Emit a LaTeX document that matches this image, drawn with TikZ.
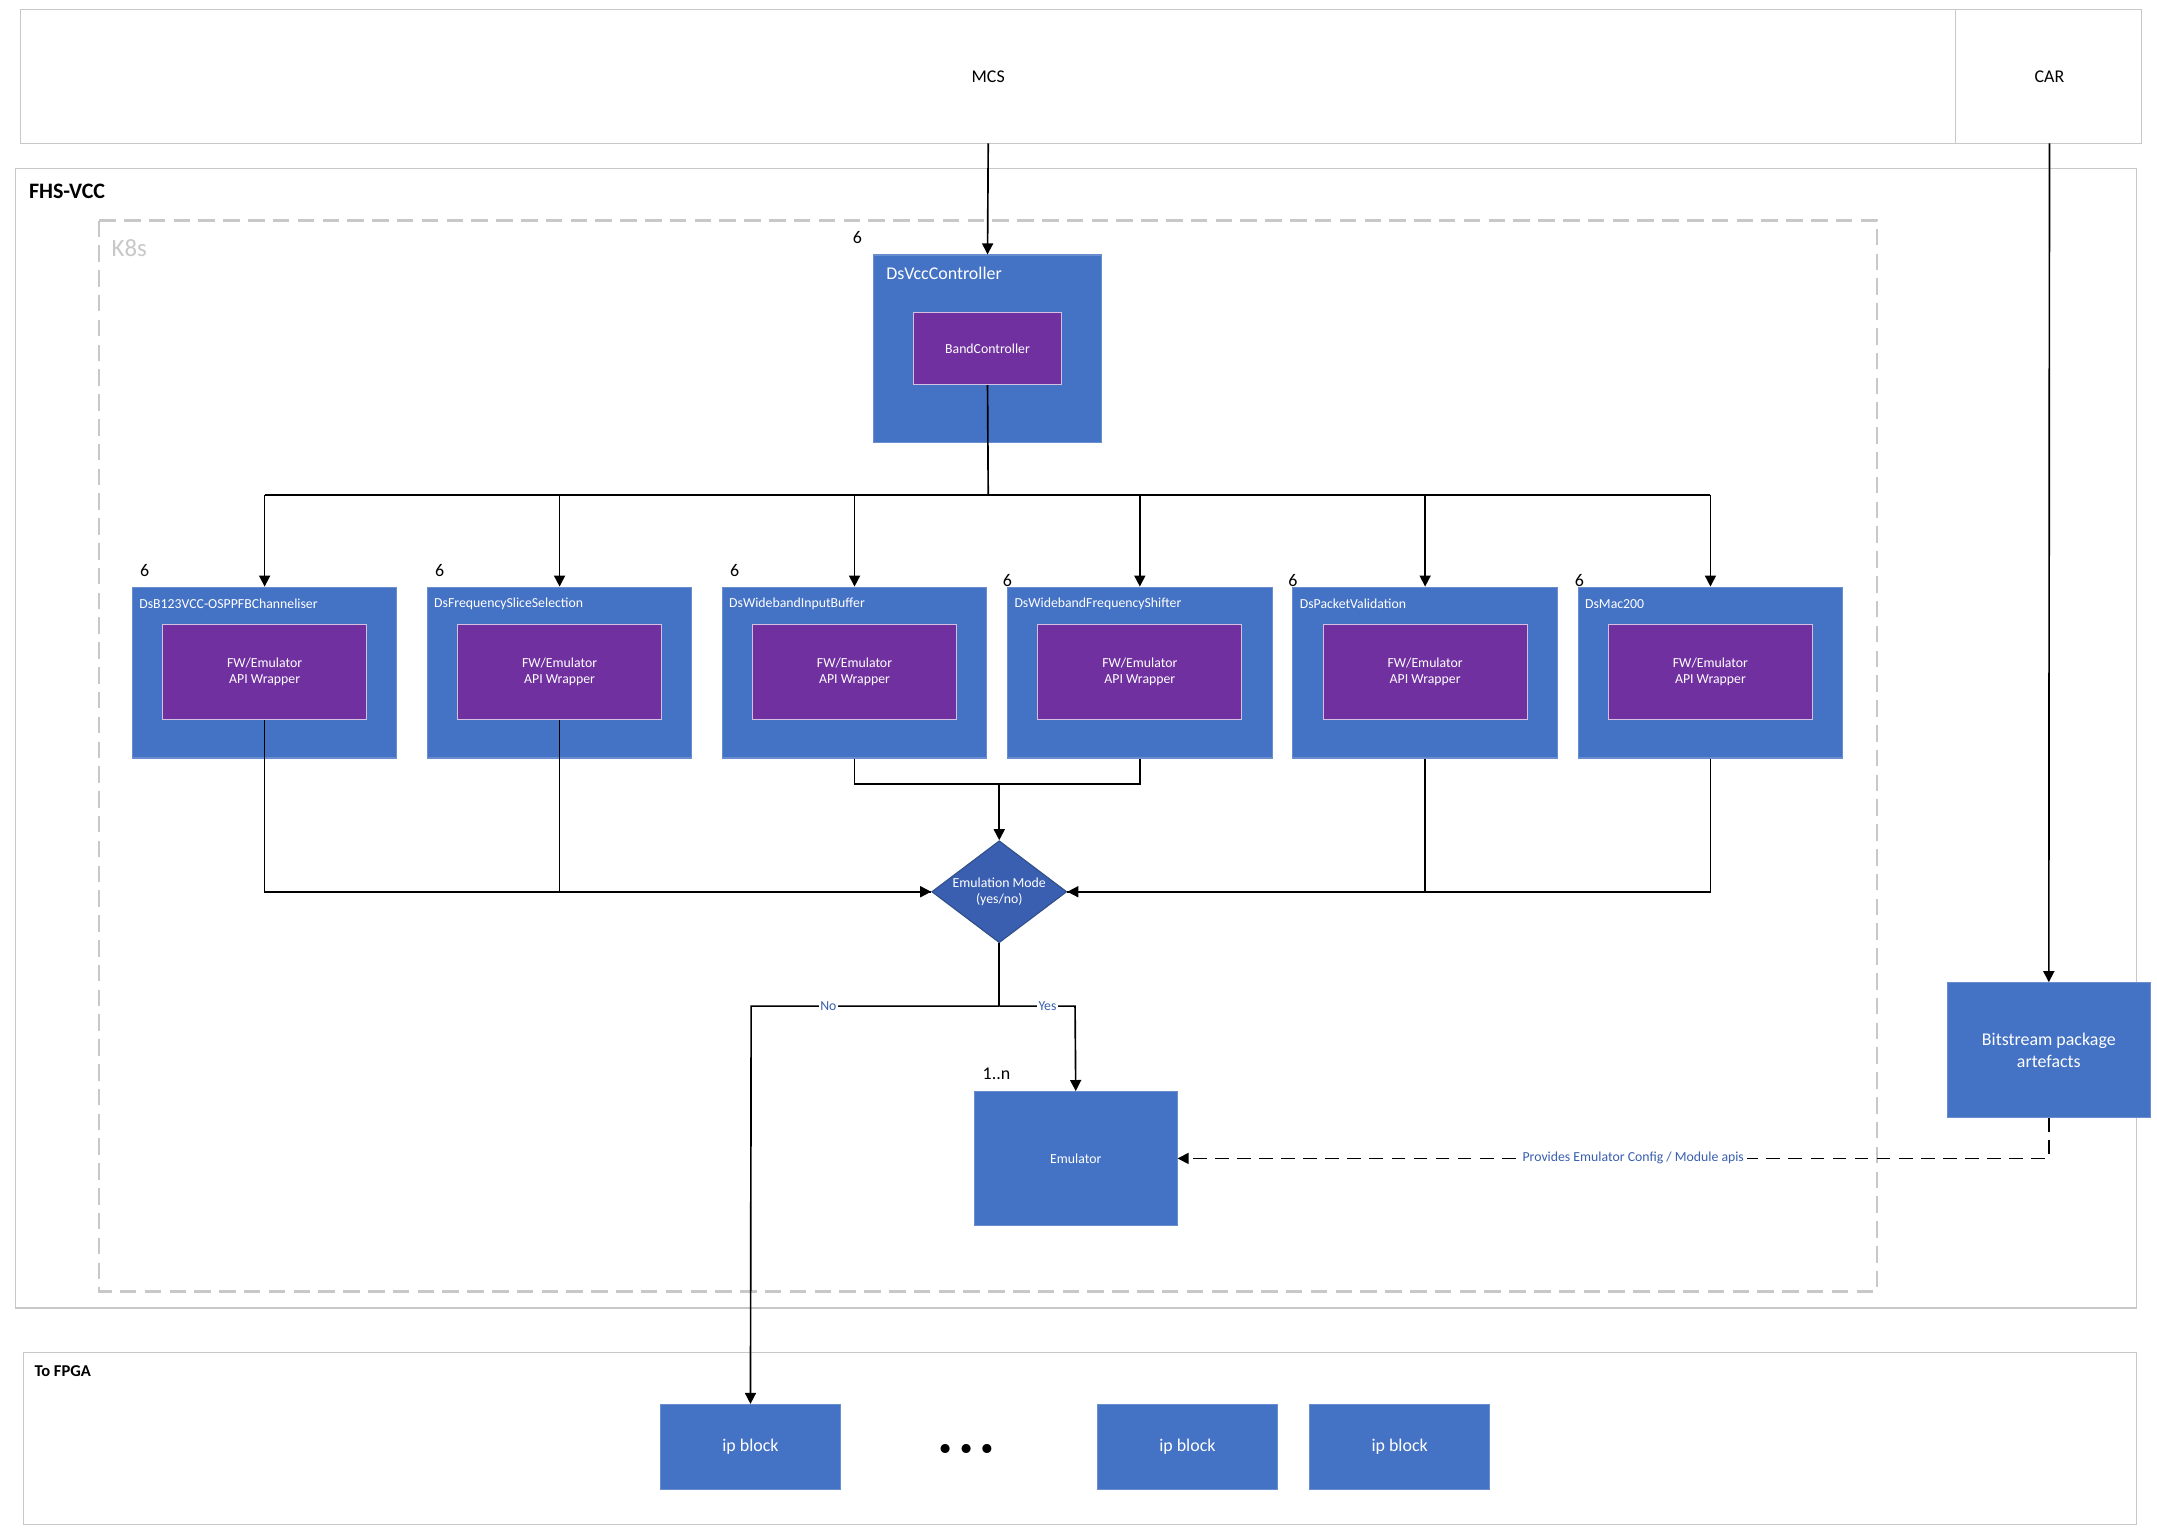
\documentclass[tikz,border=0pt]{standalone}
\usepackage{fontspec}
\setmainfont{Carlito}
\usetikzlibrary{shapes.geometric,arrows.meta}
\definecolor{bl}{HTML}{4472C4}
\definecolor{pu}{HTML}{7030A0}
\definecolor{gr}{HTML}{C8C8C8}
\definecolor{lb}{HTML}{3A5FB0}
\begin{document}
\begin{tikzpicture}[x=0.5pt,y=-0.5pt,
 blk/.style={fill=bl,draw=bl!80!white,inner sep=0},
 inn/.style={fill=pu,draw=white!70!pu,text=white,font=\fontsize{5}{6}\selectfont,align=center,inner sep=0},
 ttl/.style={text=white,font=\fontsize{5}{6}\selectfont,anchor=west},
 num/.style={font=\fontsize{6.5}{7}\selectfont},
 ar/.style={-{Triangle[length=4pt,width=4pt]},semithick},
 ln/.style={semithick}]
\fill[white] (0,0) rectangle (1565,1112);
\useasboundingbox (0,0) rectangle (1565,1112);
% top
\draw[gr] (15,7) rectangle (1419,104);
\draw[gr] (1419,7) rectangle (1554,104);
\node[font=\fontsize{6.5}{7}\selectfont] (mcs) at (717,56) {MCS};
\node[font=\fontsize{6.5}{7}\selectfont] (car) at (1487,56) {CAR};
\coordinate (mcsb) at (717,104);
\coordinate (carb) at (1487,104);
% FHS-VCC
\draw[gr] (11,122) rectangle (1550,949);
\node[anchor=west,font=\bfseries\fontsize{8}{9}\selectfont] (fhs) at (14,139) {FHS-VCC};
\draw[gr,dashed,thick,dash pattern=on 6pt off 3pt] (72,160) rectangle (1362,937);
\node[anchor=west,text=gr,font=\fontsize{9}{10}\selectfont] (k8s) at (74,180) {K8s};
% controller
\node[blk,minimum width=165*0.5pt,minimum height=136*0.5pt] (ctrl) at (716.5,253) {};
\node[ttl,font=\fontsize{6.5}{7}\selectfont] (ctt) at (636,198) {DsVccController};
\node[num] (n0) at (622,172) {6};
\node[inn,minimum width=107*0.5pt,minimum height=52*0.5pt] (band) at (716.5,253) {BandController};
\coordinate (bus) at (717,359);
\draw[ln] (band.south) -- (bus);
\draw[ln] (192,359) -- (1241,359);
% six boxes
\foreach \i/\x/\t/\nx/\ny in {1/192/DsB123VCC-OSPPFBChanneliser/105/414, 2/406/DsFrequencySliceSelection/319/414, 3/620/DsWidebandInputBuffer/533/414, 4/827/DsWidebandFrequencyShifter/731/421, 5/1034/DsPacketValidation/938/421, 6/1241/DsMac200/1146/421}{
 \node[blk,minimum width=192*0.5pt,minimum height=124*0.5pt] (b\i) at (\x,488) {};
 \node[ttl] (bt\i) at (\x-98,438) {\t};
 \node[inn,minimum width=148*0.5pt,minimum height=69*0.5pt] (w\i) at (\x,487.5) {FW/Emulator\\API Wrapper};
 \node[num] (nn\i) at (\nx,\ny) {6};
 \draw[ar] (\x,359) -- (b\i.north);
}
% diamond
\node[diamond,fill=lb,draw=bl!70!black,text=white,minimum width=98*0.5pt,minimum height=74*0.5pt,inner sep=0,align=center,font=\fontsize{5}{6}\selectfont,aspect=1.32] (dia) at (725,647) {Emulation Mode\\(yes/no)};
\draw[ln] (w1.south) |- (dia.west);
\draw[ar] (w2.south) |- (dia.west);
\draw[ln] (b3.south) |- (827,569) -- (b4.south);
\draw[ar] (725,569) -- (dia.north);
\draw[ln] (b5.south) |- (dia.east);
\draw[ar] (b6.south) |- (dia.east);
% emulator
\node[blk,minimum width=147*0.5pt,minimum height=97*0.5pt,text=white,font=\fontsize{5}{6}\selectfont] (emu) at (780.5,840.5) {Emulator};
\node[num] (n1n) at (723,779) {1..n};
% FPGA
\draw[gr] (17,981) rectangle (1550,1106);
\node[anchor=west,font=\bfseries\fontsize{6}{7}\selectfont] (fpga) at (18,995) {To FPGA};
\foreach \i/\x in {1/544.5,2/861.5,3/1015.5}
 \node[blk,minimum width=131*0.5pt,minimum height=62*0.5pt,text=white,font=\fontsize{6.5}{7}\selectfont] (ip\i) at (\x,1050) {ip block};
\node[font=\fontsize{8}{8}\selectfont] (dots) at (701,1052) {$\bullet\,\bullet\,\bullet$};
% yes/no
\coordinate (split) at (725,730);
\draw[ln] (dia.south) -- (split);
\draw[ar] (split) -- (545,730) -- (ip1.north);
\draw[ar] (split) -- (780,730) -- (emu.north);
\node[fill=white,inner sep=0.5pt,text=lb,font=\fontsize{5}{6}\selectfont] (no) at (601,730) {No};
\node[fill=white,inner sep=0.5pt,text=lb,font=\fontsize{5}{6}\selectfont] (yes) at (760,730) {Yes};
% bitstream
\node[blk,minimum width=147*0.5pt,minimum height=98*0.5pt,text=white,align=center,font=\fontsize{6.5}{8}\selectfont] (bit) at (1486.5,762) {Bitstream package\\artefacts};
\draw[ar] (carb) -- (bit.north);
\draw[ar] (mcsb) -- (ctrl.north);
\draw[ar,dashed,dash pattern=on 5pt off 3pt] (bit.south) |- (emu.east);
\node[fill=white,inner sep=1pt,text=lb,font=\fontsize{5}{6}\selectfont] (prov) at (1185,840) {Provides Emulator Config / Module apis};
\end{tikzpicture}
\end{document}
